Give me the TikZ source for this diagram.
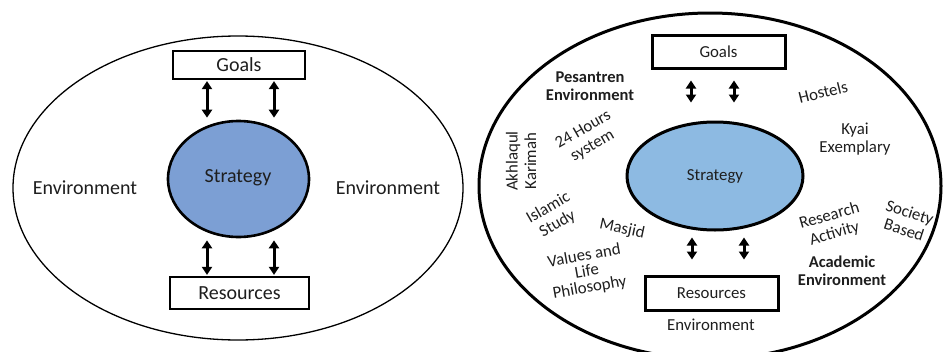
\documentclass[tikz,border=0pt]{standalone}
\usepackage{fontspec}
\setmainfont{Carlito}
\usetikzlibrary{shapes.geometric,arrows.meta}
\definecolor{txt}{HTML}{1E1E1E}
\definecolor{stratL}{HTML}{7C9FD4}
\definecolor{stratR}{HTML}{8DBAE2}
\tikzset{
  lbig/.style={font=\fontsize{20}{22}\selectfont, text=txt, inner sep=0pt},
  rsm/.style={font=\fontsize{16.8}{18.5}\selectfont, text=txt, inner sep=0pt, align=center},
  rbold/.style={rsm, font=\fontsize{16.5}{18.5}\selectfont\bfseries},
  boxL/.style={draw=black, line width=2.2pt, inner sep=0pt, lbig},
  boxR/.style={draw=black, line width=3pt, inner sep=0pt, rsm},
  dblarrow/.style={draw=black, line width=3pt, {Triangle[length=8pt,width=10pt]}-{Triangle[length=8pt,width=10pt]}},
}
\begin{document}
\begin{tikzpicture}[x=1pt,y=-1pt]
\useasboundingbox (0,0) rectangle (945,351);
\clip (0,0) rectangle (945,351);
% ---------- left panel ----------
\node[ellipse, draw=black, line width=1.3pt, minimum width=450pt, minimum height=304pt, inner sep=0pt] (envL) at (238,188) {};
\node[boxL, minimum width=132pt, minimum height=28pt] (goalsL) at (239,65) {Goals};
\node[boxL, minimum width=139pt, minimum height=32pt] (resL) at (239.5,293) {Resources};
\node[ellipse, draw=black, fill=stratL, line width=2.6pt, minimum width=141pt, minimum height=116pt, inner sep=0pt] (strL) at (238.5,179) {};
\node[lbig] (strLt) at (238,178) {Strategy};
\node[lbig] (envLl) at (85,188) {Environment};
\node[lbig] (envLr) at (388,188) {Environment};
\draw[dblarrow] ([xshift=-32pt,yshift=-1pt]goalsL.south) -- ([xshift=-32pt,yshift=2pt]goalsL.south |- strL.north);
\draw[dblarrow] ([xshift=35pt,yshift=-1pt]goalsL.south) -- ([xshift=35pt,yshift=2pt]goalsL.south |- strL.north);
\draw[dblarrow] ([xshift=-32.5pt,yshift=-2pt]resL.south |- strL.south) -- ([xshift=-32.5pt,yshift=1pt]resL.north);
\draw[dblarrow] ([xshift=34.5pt,yshift=-2pt]resL.south |- strL.south) -- ([xshift=34.5pt,yshift=1pt]resL.north);
% ---------- right panel ----------
\node[ellipse, draw=black, line width=3pt, minimum width=462pt, minimum height=346pt, inner sep=0pt] (envR) at (710,186) {};
\node[boxR, minimum width=133pt, minimum height=33pt] (goalsR) at (718.5,51.5) {Goals};
\node[boxR, minimum width=133pt, minimum height=34pt] (resR) at (711.5,293) {Resources};
\node[ellipse, draw=black, fill=stratR, line width=3pt, minimum width=176pt, minimum height=108pt, inner sep=0pt] (strR) at (715,176) {};
\node[rsm] (strRt) at (715,176) {Strategy};
\draw[dblarrow] ([xshift=-27.5pt,yshift=-11pt]goalsR.south) -- ([xshift=-27.5pt,yshift=18pt]goalsR.south |- strR.north);
\draw[dblarrow] ([xshift=15.5pt,yshift=-11pt]goalsR.south) -- ([xshift=15.5pt,yshift=18pt]goalsR.south |- strR.north);
\draw[dblarrow] ([xshift=-19.5pt,yshift=-6pt]resR.north |- strR.south) -- ([xshift=-19.5pt,yshift=15pt]resR.north);
\draw[dblarrow] ([xshift=32.5pt,yshift=-6pt]resR.north |- strR.south) -- ([xshift=32.5pt,yshift=15pt]resR.north);
\node[rsm] (envRb) at (711,325) {Environment};
\node[rbold] (pes) at (590,86) {Pesantren\\Environment};
\node[rbold] (acad) at (842,271) {Academic\\Environment};
\node[rsm, rotate=14] (host) at (823,92) {Hostels};
\node[rsm] (kyai) at (855,139) {Kyai\\Exemplary};
\node[rsm, rotate=90] (akh) at (521,161) {Akhlaqul\\Karimah};
\node[rsm, rotate=30] (h24) at (588,138) {24 Hours\\system};
\node[rsm, rotate=30] (isl) at (553,216) {Islamic\\Study};
\node[rsm, rotate=-12] (masj) at (622,229) {Masjid};
\node[rsm, rotate=10, font=\fontsize{16.8}{16}\selectfont] (val) at (587,272) {Values and\\Life\\Philosophy};
\node[rsm, rotate=16] (res) at (832,225) {Research\\Activity};
\node[rsm, rotate=-18] (soc) at (907,221) {Society\\Based};
\end{tikzpicture}
\end{document}
